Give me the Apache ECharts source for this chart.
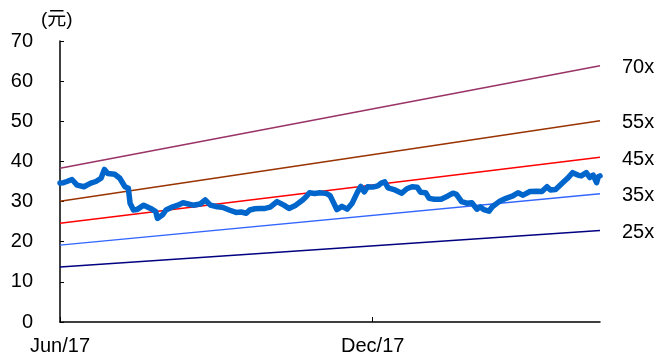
<!DOCTYPE html>
<html>
<head>
<meta charset="utf-8">
<script src="https://cdn.jsdelivr.net/npm/echarts@6/dist/echarts.min.js"></script>
<style>
  html, body { margin: 0; padding: 0; background: #fff; }
  #chart { width: 659px; height: 358px; }
</style>
</head>
<body>
<div id="chart"></div>
<script>
// Daily closing price (元)
const priceDates = [
  '2017-06-01','2017-06-03','2017-06-05','2017-06-08','2017-06-11','2017-06-15','2017-06-19','2017-06-22',
  '2017-06-25','2017-06-26','2017-06-27','2017-06-29','2017-07-03','2017-07-06','2017-07-09','2017-07-11',
  '2017-07-12','2017-07-14','2017-07-16','2017-07-20','2017-07-24','2017-07-27','2017-07-28','2017-07-31',
  '2017-08-02','2017-08-06','2017-08-09','2017-08-12','2017-08-15','2017-08-18','2017-08-22','2017-08-25',
  '2017-08-28','2017-09-01','2017-09-04','2017-09-08','2017-09-12','2017-09-15','2017-09-18','2017-09-20',
  '2017-09-23','2017-09-26','2017-09-29','2017-10-02','2017-10-06','2017-10-10','2017-10-13','2017-10-17',
  '2017-10-21','2017-10-23','2017-10-25','2017-10-28','2017-10-31','2017-11-02','2017-11-04','2017-11-06',
  '2017-11-08','2017-11-10','2017-11-13','2017-11-16','2017-11-19','2017-11-22','2017-11-24','2017-11-26',
  '2017-11-28','2017-12-01','2017-12-04','2017-12-06','2017-12-08','2017-12-10','2017-12-14','2017-12-18',
  '2017-12-21','2017-12-24','2017-12-27','2017-12-29','2018-01-01','2018-01-03','2018-01-06','2018-01-10',
  '2018-01-14','2018-01-17','2018-01-19','2018-01-22','2018-01-25','2018-01-28','2018-01-31','2018-02-02',
  '2018-02-04','2018-02-07','2018-02-09','2018-02-13','2018-02-17','2018-02-21','2018-02-24','2018-02-27',
  '2018-03-03','2018-03-07','2018-03-10','2018-03-13','2018-03-15','2018-03-18','2018-03-22','2018-03-25',
  '2018-03-28','2018-03-31','2018-04-02','2018-04-05','2018-04-07','2018-04-09','2018-04-11','2018-04-12',
  '2018-04-13'
];
const priceValues = [
  34.6, 34.7, 35.0, 35.5, 34.1, 33.7, 34.6, 35.0,
  35.8, 36.0, 38.0, 37.0, 36.8, 35.8, 33.7, 33.3,
  29.6, 27.9, 28.0, 29.1, 28.3, 27.5, 25.8, 26.7,
  27.9, 28.7, 29.1, 29.7, 29.4, 29.1, 29.4, 30.4,
  29.1, 28.7, 28.6, 27.9, 27.3, 27.4, 27.1, 27.9,
  28.2, 28.3, 28.3, 28.6, 30.0, 29.1, 28.3, 29.1,
  30.4, 31.2, 32.2, 32.0, 32.2, 32.1, 32.0, 31.5,
  29.8, 28.0, 28.8, 28.1, 29.6, 32.3, 33.8, 32.4,
  33.7, 33.6, 33.9, 34.6, 34.9, 33.4, 32.9, 32.1,
  33.2, 33.7, 33.6, 32.3, 32.2, 30.8, 30.6, 30.6,
  31.4, 32.1, 31.8, 30.0, 29.6, 29.7, 28.1, 28.7,
  28.0, 27.6, 28.7, 30.0, 30.8, 31.4, 32.2, 31.6,
  32.5, 32.6, 32.5, 33.7, 32.9, 33.0, 34.6, 35.8,
  37.2, 36.6, 36.4, 37.2, 36.0, 36.6, 34.7, 36.2,
  36.4
];

// Forward EPS used for the PE bands (元 per share)
const epsDates = ['2017-06-01', '2018-04-13'];
const epsValues = [0.547, 0.912];

// PE multiples and band colours
const peMultiples = [70, 55, 45, 35, 25];
const bandColors = ['#993366', '#993300', '#ff0000', '#3366ff', '#000080'];

// Tick labels on the date axis
const xTickDates = ['2017-06-01', '2017-12-01'];
const monthNames = ['Jan','Feb','Mar','Apr','May','Jun','Jul','Aug','Sep','Oct','Nov','Dec'];

const ts = s => new Date(s + 'T00:00:00Z').getTime();
const FONT = 'Liberation Sans, Arial, sans-serif';

const bandSeries = peMultiples.map((m, i) => ({
  type: 'line',
  name: m + 'x',
  data: epsDates.map((d, k) => [ts(d), +(epsValues[k] * m).toFixed(2)]),
  showSymbol: false,
  silent: true,
  lineStyle: { color: bandColors[i], width: 1.5 },
  endLabel: {
    show: true,
    formatter: m + 'x',
    distance: 22,
    offset: [0, 2],
    color: '#000',
    fontSize: 20,
    fontFamily: FONT
  },
  z: 2
}));

const priceSeries = {
  type: 'line',
  name: 'price',
  data: priceDates.map((d, k) => [ts(d), priceValues[k]]),
  showSymbol: false,
  lineStyle: { color: '#0066cc', width: 5.5, join: 'round', cap: 'round' },
  z: 3
};

const chart = echarts.init(document.getElementById('chart'), null, { renderer: 'canvas' });
chart.setOption({
  animation: false,
  backgroundColor: '#fff',
  textStyle: { fontFamily: FONT },
  grid: { left: 60, right: 59, top: 41, bottom: 36, containLabel: false },
  graphic: [{
    type: 'text',
    left: 41,
    top: 10,
    style: { text: '(元)', fontSize: 19, fill: '#000', fontFamily: 'Liberation Sans, Noto Sans CJK SC, sans-serif' }
  }],
  xAxis: {
    type: 'value',
    min: ts(epsDates[0]),
    max: ts(epsDates[1]),
    axisLine: { lineStyle: { color: '#000', width: 1.5 } },
    axisTick: { show: true, inside: true, length: 5, customValues: xTickDates.map(ts), lineStyle: { color: '#000' } },
    axisLabel: {
      customValues: xTickDates.map(ts),
      formatter: v => {
        const d = new Date(v);
        return monthNames[d.getUTCMonth()] + '/' + String(d.getUTCFullYear()).slice(2);
      },
      color: '#000',
      fontSize: 20,
      margin: 14
    },
    splitLine: { show: false }
  },
  yAxis: {
    type: 'value',
    min: 0,
    max: 70,
    interval: 10,
    axisLine: { show: true, lineStyle: { color: '#000', width: 1.5 } },
    axisTick: { show: true, inside: true, length: 4, lineStyle: { color: '#000' } },
    axisLabel: { color: '#000', fontSize: 20, margin: 27 },
    splitLine: { show: false }
  },
  series: [...bandSeries, priceSeries]
});
</script>
</body>
</html>
